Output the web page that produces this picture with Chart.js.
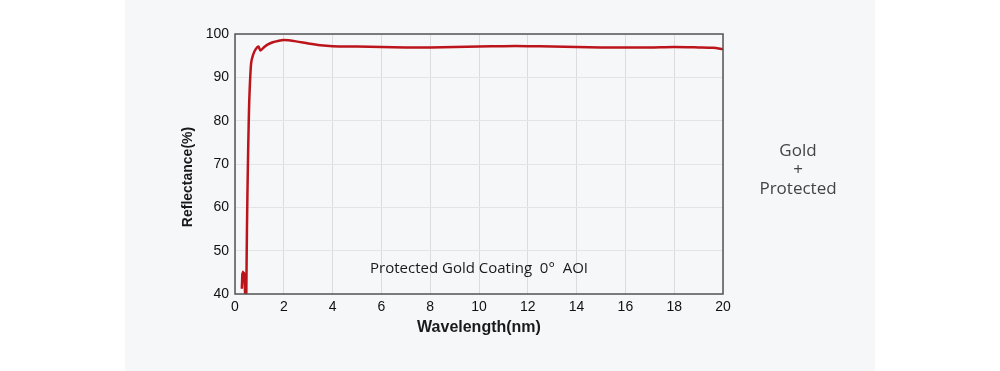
<!DOCTYPE html>
<html>
<head>
<meta charset="utf-8">
<script src="https://cdn.jsdelivr.net/npm/chart.js@4/dist/chart.umd.min.js"></script>
<style>
  html, body { margin: 0; padding: 0; background: #ffffff; }
  canvas { display: block; }
</style>
</head>
<body>
<canvas id="reflectanceChart" width="1000" height="371"></canvas>
<script>
// wavelength (x) and reflectance (%)
const blipWavelength = [0.28, 0.30, 0.33, 0.37, 0.40, 0.43];
const blipReflectance = [41.2, 44.6, 45.0, 44.8, 42.0, 38.0];

const wavelength = [0.46, 0.49, 0.53, 0.56, 0.59, 0.66, 0.74, 0.85, 0.96, 1.04, 1.2, 1.35, 1.55, 1.76, 2.0,
    2.5, 3.0, 3.5, 4, 5, 6, 7, 8, 9, 10, 11, 12, 13, 14, 15, 16, 17, 18, 19, 19.6, 20];
const reflectance = [38, 55, 70.2, 79, 85.5, 93.2, 95.2, 96.5, 97.1, 96.2, 97.0, 97.6, 98.1, 98.4, 98.6,
    98.3, 97.8, 97.4, 97.2, 97.1, 97.0, 96.9, 96.9, 97.0, 97.1, 97.2, 97.2, 97.1, 97.0, 96.9, 96.9, 96.9, 97.0, 96.9, 96.8, 96.5];

const xTicks = [0, 2, 4, 6, 8, 10, 12, 14, 16, 18, 20];
const yTicks = [40, 50, 60, 70, 80, 90, 100];

const yTitle = 'Reflectance(%)';
const curveLabel = 'Protected Gold Coating  0°  AOI';
const sideLabel = ['Gold', '+', 'Protected'];

const toPoints = (xs, ys) => xs.map((x, i) => ({ x: x, y: ys[i] }));

// grey panel, box around the plot and the free text
const decor = {
    id: 'decor',
    beforeDraw(chart) {
        const c = chart.ctx;
        c.save();
        c.fillStyle = '#ffffff';
        c.fillRect(0, 0, chart.width, chart.height);
        c.fillStyle = '#f6f7f9';
        c.fillRect(125, 0, 750, chart.height);
        c.restore();
    },
    afterDraw(chart) {
        const c = chart.ctx;
        const a = chart.chartArea;
        c.save();
        c.strokeStyle = '#555555';
        c.lineWidth = 1.5;
        c.strokeRect(a.left, a.top, a.right - a.left, a.bottom - a.top);

        c.textAlign = 'center';
        c.textBaseline = 'middle';

        // y title sits a bit below the middle of the plot in the original
        c.save();
        c.translate(188, 177);
        c.rotate(-Math.PI / 2);
        c.fillStyle = '#1a1a1a';
        c.font = 'bold 14px "Liberation Sans"';
        c.fillText(yTitle, 0, 0);
        c.restore();

        c.fillStyle = '#1a1a1a';
        c.font = '15px "Open Sans"';
        c.fillText(curveLabel, (a.left + a.right) / 2, a.bottom - 25);

        c.fillStyle = '#444444';
        c.font = '17px "Open Sans"';
        sideLabel.forEach((t, i) => c.fillText(t, 798, 151 + i * 19));
        c.restore();
    }
};

const config = {
    type: 'scatter',
    data: {
        datasets: [{
            data: toPoints(blipWavelength, blipReflectance),
            showLine: true,
            borderColor: '#bb151b',
            borderWidth: 2.5,
            pointRadius: 0,
            tension: 0
        }, {
            data: toPoints(wavelength, reflectance),
            showLine: true,
            borderColor: '#bb151b',
            borderWidth: 2.5,
            pointRadius: 0,
            tension: 0.3
        }]
    },
    options: {
        responsive: false,
        devicePixelRatio: 1,
        animation: false,
        layout: { padding: { left: 175, right: 277, top: 34, bottom: 27 } },
        plugins: {
            legend: { display: false },
            tooltip: { enabled: false }
        },
        scales: {
            x: {
                type: 'linear',
                min: 0,
                max: 20,
                afterFit: s => { s.height = 50; },
                afterBuildTicks: s => { s.ticks = xTicks.map(v => ({ value: v })); },
                grid: { color: '#dcdcde', lineWidth: 1, drawTicks: false },
                border: { display: false },
                ticks: { padding: 5, color: '#111111', font: { family: '"Liberation Sans"', size: 14 } },
                title: {
                    display: true,
                    text: 'Wavelength(nm)',
                    color: '#1a1a1a',
                    font: { family: '"Liberation Sans"', size: 16, weight: 'bold' },
                    padding: { top: 4, bottom: 7 }
                }
            },
            y: {
                min: 40,
                max: 100,
                afterFit: s => { s.width = 60; },
                afterBuildTicks: s => { s.ticks = yTicks.map(v => ({ value: v })); },
                grid: { color: '#e4e4e6', lineWidth: 1, drawTicks: false },
                border: { display: false },
                ticks: { padding: 6, color: '#111111', font: { family: '"Liberation Sans"', size: 14 } },
                title: { display: false }
            }
        }
    },
    plugins: [decor]
};

const ctx = document.getElementById('reflectanceChart').getContext('2d');
const reflectanceChart = new Chart(ctx, config);
</script>
</body>
</html>
